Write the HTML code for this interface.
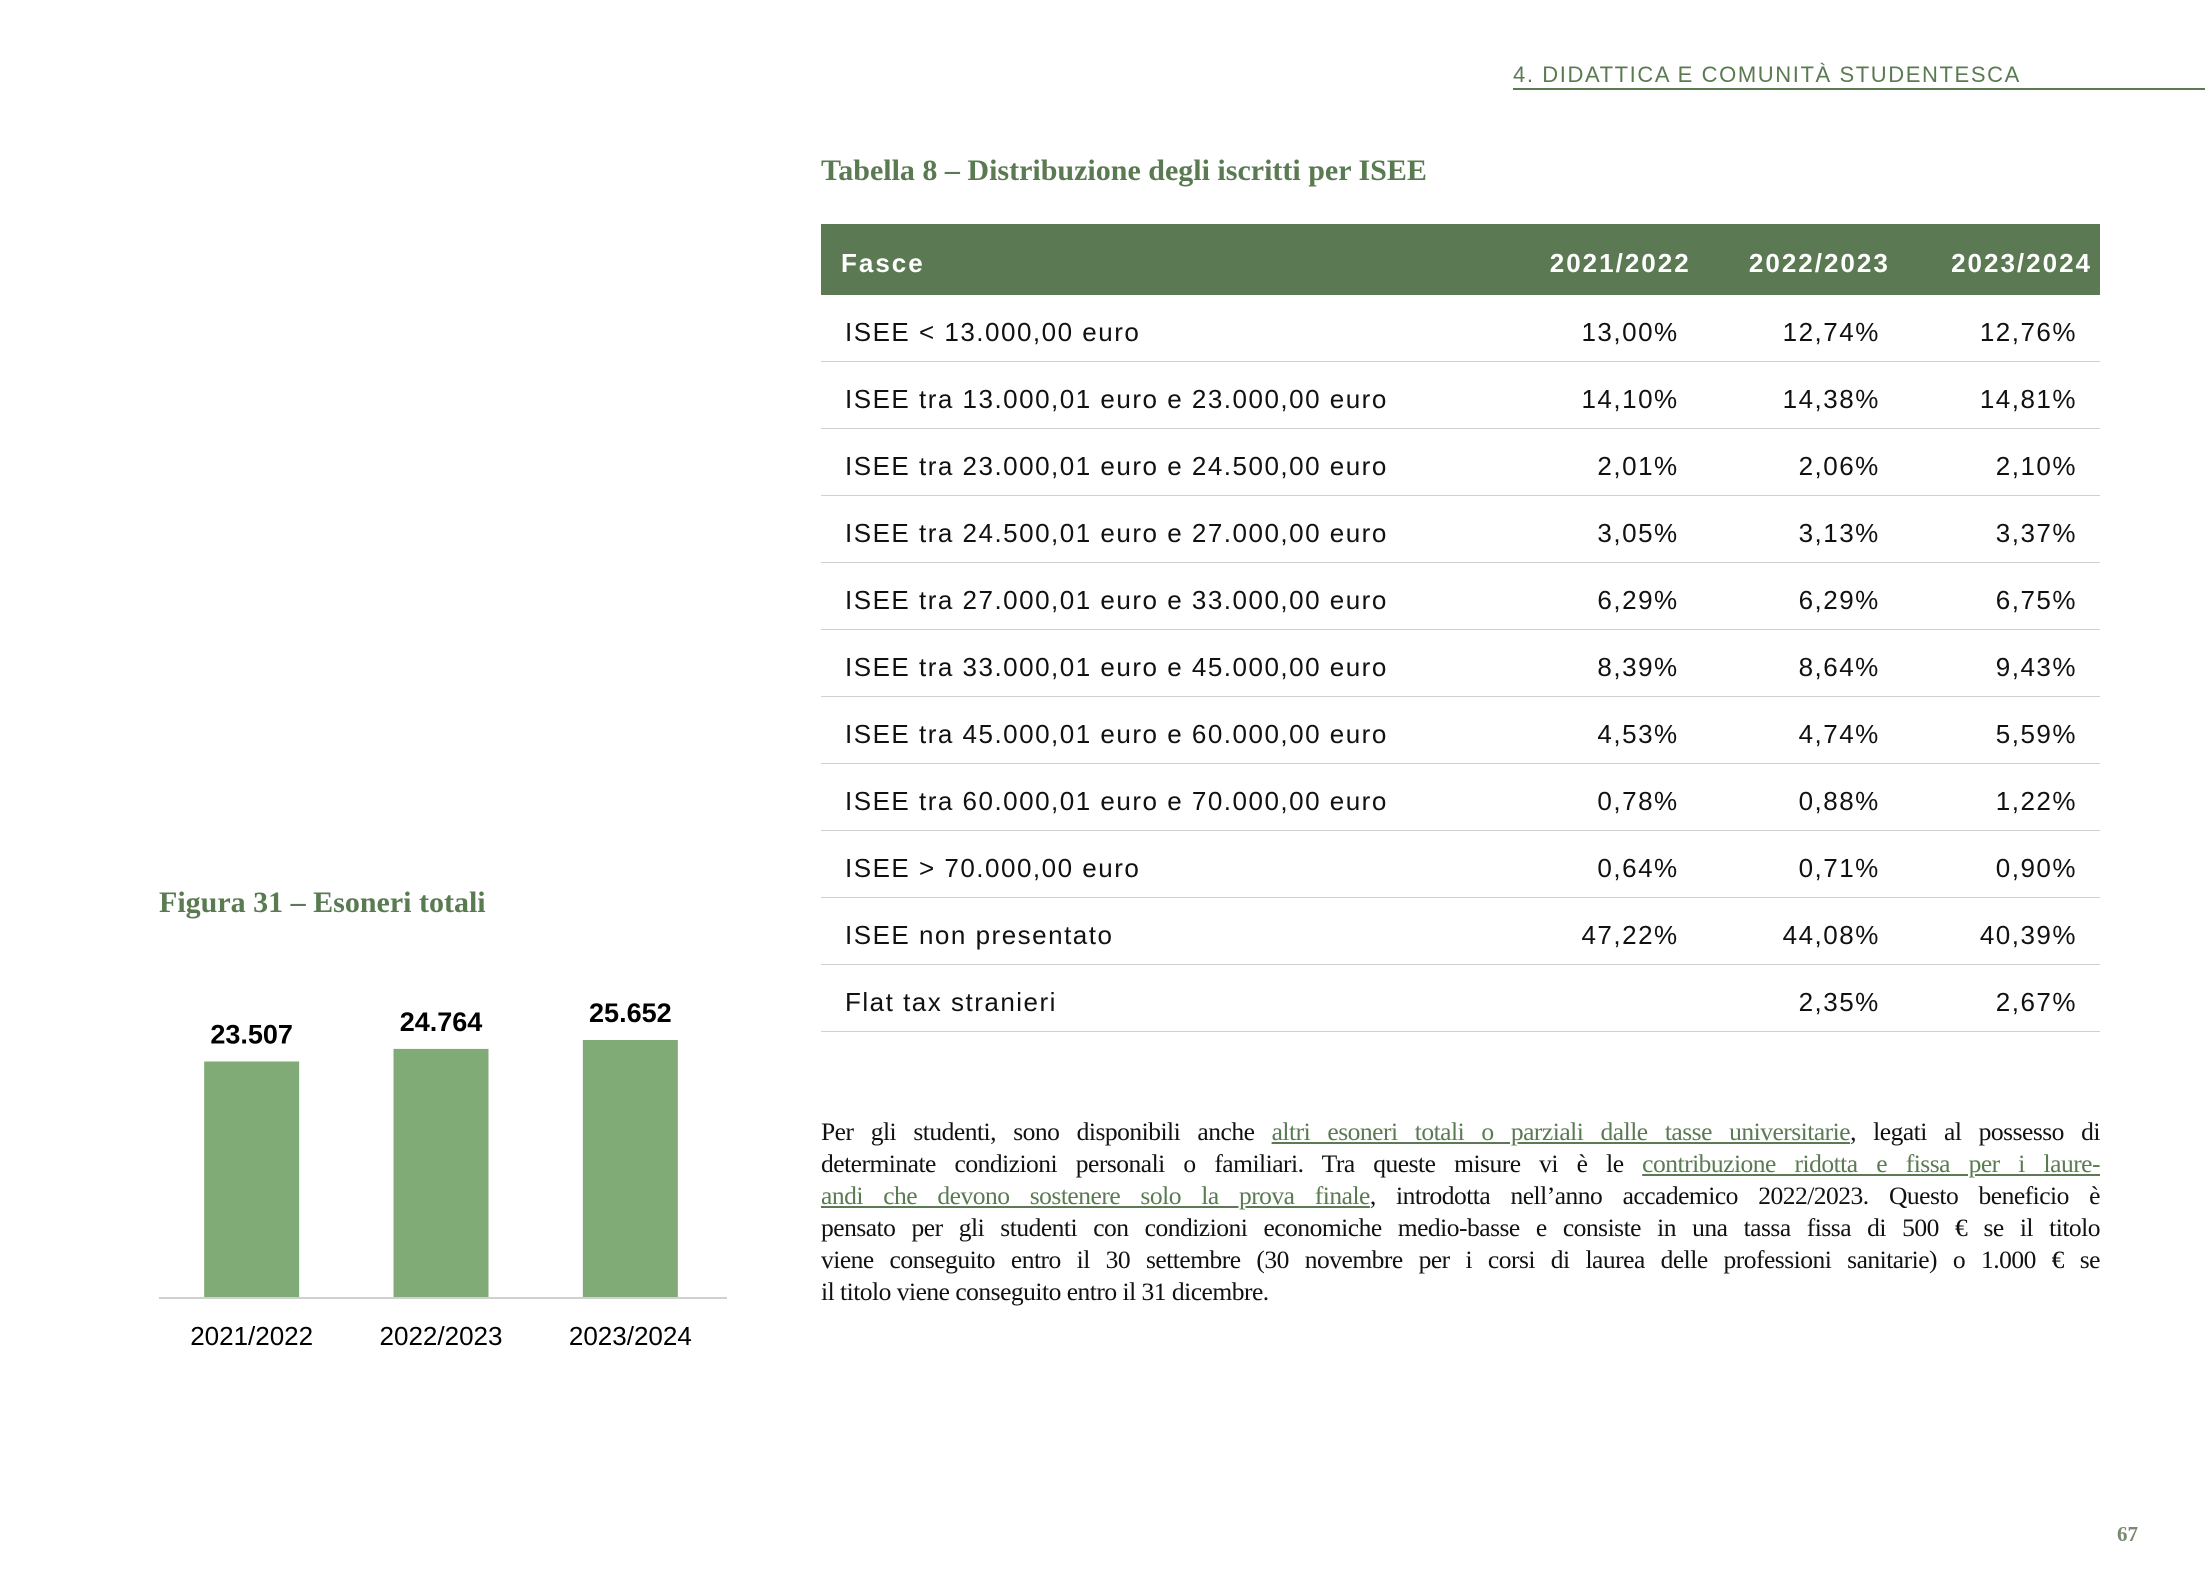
<!DOCTYPE html>
<html><head><meta charset="utf-8">
<style>
body{margin:0;width:2205px;height:1575px;background:#fff;position:relative;overflow:hidden;font-family:"Liberation Sans",sans-serif;}
.abs{position:absolute;}
#hdr{left:1513px;top:62px;font-size:22px;color:#5a7a52;letter-spacing:1.6px;}
#hdrline{left:1513px;top:88px;width:692px;height:2px;background:#5a7a52;}
.ttl{font-family:"Liberation Serif",serif;font-weight:bold;color:#5a7a52;font-size:30px;}
table{border-collapse:collapse;}
#tbl{left:821px;top:224px;width:1279px;font-size:26px;}
#tbl th{background:#5b7a53;color:#fff;height:63px;font-weight:bold;padding:0;padding-top:8px;letter-spacing:2px;}
#tbl td{height:58px;border-bottom:1.5px solid #d0d0d0;padding:0;padding-top:8px;color:#111;letter-spacing:1.5px;}
.c0{text-align:left;padding-left:24px !important;}
.r{text-align:right;}
#para{left:821px;top:1116px;width:1279px;font-family:"Liberation Serif",serif;font-size:25.5px;color:#111;line-height:32px;letter-spacing:-0.5px;}
#para div{text-align:justify;text-align-last:justify;white-space:nowrap;}
#para div.last{text-align-last:left;}
a{color:#5a7a52;text-decoration:underline;}
#pg{left:2117px;top:1522px;font-family:"Liberation Serif",serif;font-weight:bold;font-size:21px;color:#7a8a72;}
</style></head><body>
<div class="abs" id="hdr">4. DIDATTICA E COMUNITÀ STUDENTESCA</div>
<div class="abs" id="hdrline"></div>
<div class="abs ttl" style="left:821px;top:154px;">Tabella 8 – Distribuzione degli iscritti per ISEE</div>
<table class="abs" id="tbl">
<colgroup><col style="width:868px"><col style="width:199px"><col style="width:200px"><col style="width:212px"></colgroup>
<tr><th class="c0" style="padding-left:20px!important">Fasce</th><th class="r" style="padding-right:23px">2021/2022</th><th class="r" style="padding-right:13px">2022/2023</th><th class="r" style="padding-right:8px">2023/2024</th></tr>
</table>
<div class="abs ttl" style="left:159px;top:886px;">Figura 31 – Esoneri totali</div>
<svg class="abs" style="left:0;top:0" width="2205" height="1575" id="chart"></svg>
<div class="abs" id="para">
<div>Per gli studenti, sono disponibili anche <a>altri esoneri totali o parziali dalle tasse universitarie</a>, legati al possesso di</div>
<div>determinate condizioni personali o familiari. Tra queste misure vi è le <a>contribuzione ridotta e fissa per i laure-</a></div>
<div><a>andi che devono sostenere solo la prova finale</a>, introdotta nell’anno accademico 2022/2023. Questo beneficio è</div>
<div>pensato per gli studenti con condizioni economiche medio-basse e consiste in una tassa fissa di 500 € se il titolo</div>
<div>viene conseguito entro il 30 settembre (30 novembre per i corsi di laurea delle professioni sanitarie) o 1.000 € se</div>
<div class="last">il titolo viene conseguito entro il 31 dicembre.</div>
</div>
<div class="abs" id="pg">67</div>
<script>
const rowLabels=["ISEE < 13.000,00 euro","ISEE tra 13.000,01 euro e 23.000,00 euro","ISEE tra 23.000,01 euro e 24.500,00 euro","ISEE tra 24.500,01 euro e 27.000,00 euro","ISEE tra 27.000,01 euro e 33.000,00 euro","ISEE tra 33.000,01 euro e 45.000,00 euro","ISEE tra 45.000,01 euro e 60.000,00 euro","ISEE tra 60.000,01 euro e 70.000,00 euro","ISEE > 70.000,00 euro","ISEE non presentato","Flat tax stranieri"];
const col2122=["13,00%","14,10%","2,01%","3,05%","6,29%","8,39%","4,53%","0,78%","0,64%","47,22%",""];
const col2223=["12,74%","14,38%","2,06%","3,13%","6,29%","8,64%","4,74%","0,88%","0,71%","44,08%","2,35%"];
const col2324=["12,76%","14,81%","2,10%","3,37%","6,75%","9,43%","5,59%","1,22%","0,90%","40,39%","2,67%"];
const categories=["2021/2022","2022/2023","2023/2024"];
const values=[23507,24764,25652];
const valueLabels=["23.507","24.764","25.652"];

const tbl=document.getElementById('tbl');
rowLabels.forEach((l,i)=>{
  const tr=document.createElement('tr');
  
  
  [[l,'c0',''],[col2122[i],'r','35px'],[col2223[i],'r','23px'],[col2324[i],'r','23px']].forEach(c=>{
    const td=document.createElement('td');td.className=c[1];td.textContent=c[0];
    if(c[2])td.style.paddingRight=c[2];
    tr.appendChild(td);
  });
  tbl.appendChild(tr);
});

const svg=document.getElementById('chart');const NS='http://www.w3.org/2000/svg';
const baseY=1297, pxPerUnit=257/25652, x0=159, x1=727, barW=95;
const band=(x1-x0)/categories.length;
function xc(i){return x0+band*(i+0.5)-2;}
function y(v){return baseY-v*pxPerUnit;}
values.forEach((v,i)=>{
  const r=document.createElementNS(NS,'rect');
  r.setAttribute('x',xc(i)-barW/2);r.setAttribute('y',y(v));r.setAttribute('width',barW);r.setAttribute('height',baseY-y(v));r.setAttribute('fill','#80ab77');
  
  
  svg.appendChild(r);
  const t=document.createElementNS(NS,'text');
  t.setAttribute('x',xc(i));t.setAttribute('y',y(v)-18);t.setAttribute('text-anchor','middle');t.setAttribute('font-size','27');t.setAttribute('font-weight','bold');t.setAttribute('font-family','Liberation Sans, sans-serif');t.textContent=valueLabels[i];
  
  
  svg.appendChild(t);
  const c=document.createElementNS(NS,'text');
  c.setAttribute('x',xc(i));c.setAttribute('y',baseY+48);c.setAttribute('text-anchor','middle');c.setAttribute('font-size','26');c.setAttribute('font-family','Liberation Sans, sans-serif');c.textContent=categories[i];
  
  
  svg.appendChild(c);
});
const ax=document.createElementNS(NS,'line');
ax.setAttribute('x1',x0);ax.setAttribute('x2',x1);ax.setAttribute('y1',baseY+1);ax.setAttribute('y2',baseY+1);ax.setAttribute('stroke','#d0d0d0');ax.setAttribute('stroke-width','2');


svg.appendChild(ax);
</script>
</body></html>
